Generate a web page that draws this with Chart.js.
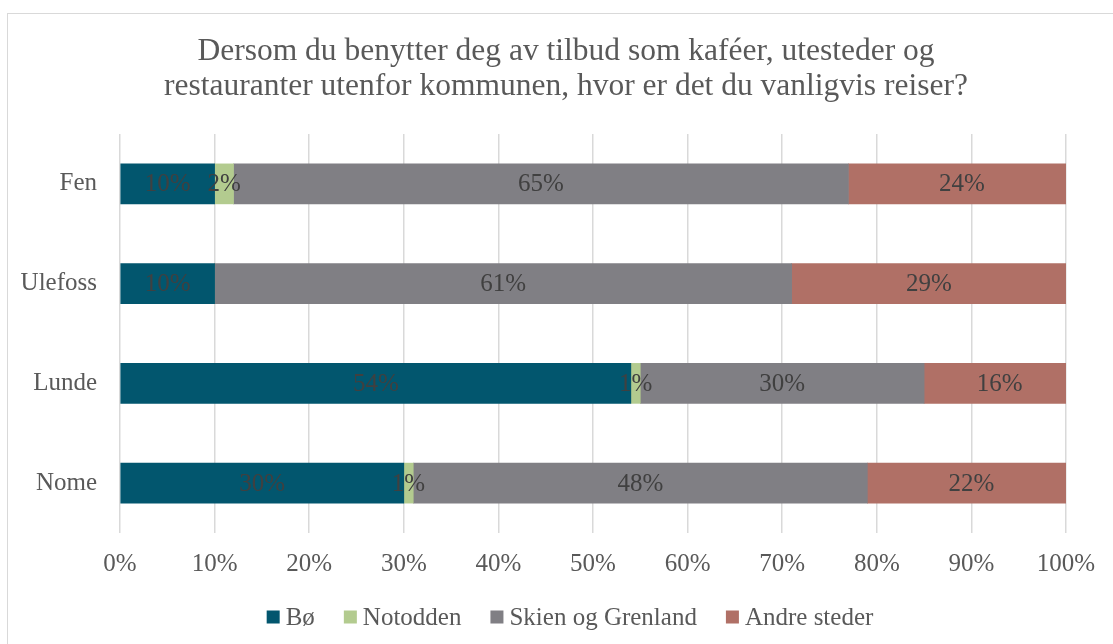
<!DOCTYPE html>
<html>
<head>
<meta charset="utf-8">
<script src="https://cdn.jsdelivr.net/npm/chart.js@4/dist/chart.umd.min.js"></script>
<style>
  html, body { margin: 0; padding: 0; background: #fff; }
  #wrap { width: 1113px; height: 644px; }
</style>
</head>
<body>
<div id="wrap"><canvas id="chart" width="1113" height="644"></canvas></div>
<script>
// data
var places = ["Fen", "Ulefoss", "Lunde", "Nome"];
var bo = [10, 10, 54, 30];
var notodden = [2, 0, 1, 1];
var skien = [65, 61, 30, 48];
var andre = [24, 29, 16, 22];
var xTicks = [0, 10, 20, 30, 40, 50, 60, 70, 80, 90, 100];
var titleLines = ["Dersom du benytter deg av tilbud som kaféer, utesteder og",
                  "restauranter utenfor kommunen, hvor er det du vanligvis reiser?"];

var serif = "'Liberation Serif', 'Times New Roman', serif";
var textGrey = '#595959';

// white background, light frame, title
var framePlugin = {
  id: 'frame',
  beforeDraw: function(chart) {
    var ctx = chart.ctx;
    ctx.save();
    ctx.fillStyle = '#fff';
    ctx.fillRect(0, 0, chart.width, chart.height);
    ctx.strokeStyle = '#d9d9d9';
    ctx.lineWidth = 1;
    ctx.strokeRect(7.5, 13.5, chart.width + 20, chart.height + 20);
    ctx.fillStyle = textGrey;
    ctx.font = "31.5px " + serif;
    ctx.textAlign = 'center';
    ctx.textBaseline = 'alphabetic';
    ctx.fillText(titleLines[0], 566, 60);
    ctx.fillText(titleLines[1], 566, 95);
    ctx.restore();
  }
};

// value labels centered in each segment
var labelPlugin = {
  id: 'segLabels',
  afterDatasetsDraw: function(chart) {
    var ctx = chart.ctx;
    ctx.save();
    ctx.font = "25px " + serif;
    ctx.fillStyle = '#404040';
    ctx.textAlign = 'center';
    ctx.textBaseline = 'middle';
    chart.data.datasets.forEach(function(ds, i) {
      var meta = chart.getDatasetMeta(i);
      meta.data.forEach(function(bar, j) {
        var v = ds.data[j];
        if (!v) return;
        var cx = (bar.x + bar.base) / 2;
        ctx.fillText(v + '%', cx, bar.y + 1);
      });
    });
    ctx.restore();
  }
};

// legend in the Excel style: small square, short gap, label
var legendPlugin = {
  id: 'xlLegend',
  afterDraw: function(chart) {
    var ctx = chart.ctx;
    var ds = chart.data.datasets;
    var box = 13, gap = 6, itemGap = 29, y = 617;
    ctx.save();
    ctx.font = "25px " + serif;
    var total = 0;
    ds.forEach(function(d, i) {
      total += box + gap + ctx.measureText(d.label).width;
      if (i < ds.length - 1) total += itemGap;
    });
    var x = 570 - total / 2;
    ctx.textBaseline = 'middle';
    ctx.textAlign = 'left';
    ds.forEach(function(d) {
      ctx.fillStyle = d.backgroundColor;
      ctx.fillRect(x, y - box / 2, box, box);
      x += box + gap;
      ctx.fillStyle = textGrey;
      ctx.fillText(d.label, x, y + 1);
      x += ctx.measureText(d.label).width + itemGap;
    });
    ctx.restore();
  }
};

new Chart("chart", {
  type: "bar",
  data: {
    labels: places,
    datasets: [
      { label: "Bø", data: bo, backgroundColor: "#02566e" },
      { label: "Notodden", data: notodden, backgroundColor: "#b3cb8f" },
      { label: "Skien og Grenland", data: skien, backgroundColor: "#807f84" },
      { label: "Andre steder", data: andre, backgroundColor: "#b07066" }
    ]
  },
  options: {
    indexAxis: 'y',
    responsive: false,
    animation: false,
    layout: { padding: { left: 0, right: 47, top: 134, bottom: 65 } },
    datasets: { bar: { barThickness: 40 } },
    scales: {
      x: {
        stacked: true,
        min: 0,
        max: 100,
        afterBuildTicks: function(axis) {
          axis.ticks = xTicks.map(function(v) { return { value: v }; });
        },
        afterFit: function(axis) { axis.height = 46; },
        ticks: {
          callback: function(v) { return v + '%'; },
          color: textGrey,
          font: { family: serif, size: 25 },
          padding: 16,
          maxRotation: 0
        },
        grid: { color: '#d9d9d9', lineWidth: 1.5, drawTicks: false },
        border: { display: false }
      },
      y: {
        stacked: true,
        afterFit: function(axis) { axis.width = 120; },
        ticks: {
          color: textGrey,
          font: { family: serif, size: 25 },
          padding: 15
        },
        grid: { display: false },
        border: { display: false }
      }
    },
    plugins: {
      title: { display: false },
      legend: { display: false },
      tooltip: { enabled: false }
    }
  },
  plugins: [framePlugin, labelPlugin, legendPlugin]
});
</script>
</body>
</html>
